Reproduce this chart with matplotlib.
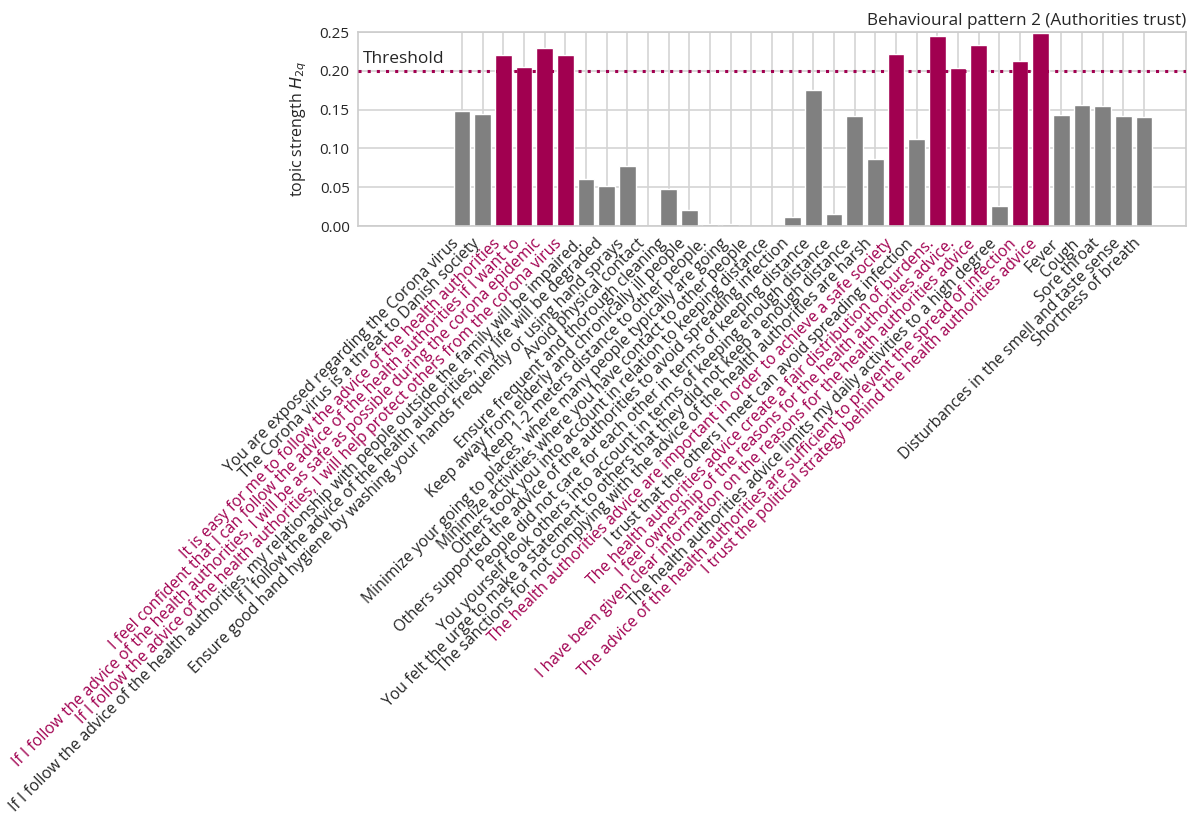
import numpy as np
import matplotlib
matplotlib.use("Agg")
import matplotlib.pyplot as plt
import seaborn as sns

sns.set_style("whitegrid")
plt.rcParams['font.family'] = ['Open Sans', 'DejaVu Sans']

# questionnaire items and their topic strength for pattern 2
items = [
    "You are exposed regarding the Corona virus",
    "The Corona virus is a threat to Danish society",
    "It is easy for me to follow the advice of the health authorities",
    "I feel confident that I can follow the advice of the health authorities if I want to",
    "If I follow the advice of the health authorities, I will be as safe as possible during the corona epidemic",
    "If I follow the advice of the health authorities, I will help protect others from the corona virus",
    "If I follow the advice of the health authorities, my relationship with people outside the family will be impaired.",
    "If I follow the advice of the health authorities, my life will be degraded",
    "Ensure good hand hygiene by washing your hands frequently or using hand sprays",
    "Avoid physical contact",
    "Ensure frequent and thorough cleaning",
    "Keep away from elderly and chronically ill people",
    "Keep 1-2 meters distance to other people.",
    "Minimize your going to places, where many people typically are going",
    "Minimize activities where you have contact to other people",
    "Others took you into account in relation to keeping distance",
    "Others supported the advice of the authorities to avoid spreading infection",
    "People did not care for each other in terms of keeping distance",
    "You yourself took others into account in terms of keeping enough distance",
    "You felt the urge to make a statement to others that they did not keep a enough distance",
    "The sanctions for not complying with the advice of the health authorities are harsh",
    "The health authorities advice are important in order to achieve a safe society",
    "I trust that the others I meet can avoid spreading infection",
    "The health authorities advice create a fair distribution of burdens.",
    "I feel ownership of the reasons for the health authorities advice.",
    "I have been given clear information on the reasons for the health authorities advice",
    "The health authorities advice limits my daily activities to a high degree",
    "The advice of the health authorities are sufficient to prevent the spread of infection",
    "I trust the political strategy behind the health authorities advice",
    "Fever",
    "Cough",
    "Sore throat",
    "Disturbances in the smell and taste sense",
    "Shortness of breath",
]
strength = [
    0.1486, 0.1439, 0.2199, 0.2053, 0.2298, 0.2204, 0.0610, 0.0520, 0.0777,
    0.0, 0.0480, 0.0206, 0.0026, 0.0030, 0.0, 0.0, 0.0112, 0.1757, 0.0155,
    0.1422, 0.0868, 0.2221, 0.1121, 0.2448, 0.2036, 0.2328, 0.0258, 0.2130,
    0.2487, 0.1430, 0.1563, 0.1546, 0.1413, 0.1405,
]
threshold = 0.2

magenta = "#a10050"
grey = "#808080"
text_col = "#262626"

fig = plt.figure(figsize=(11.93, 8.19), dpi=100)
ax = fig.add_axes([358 / 1193, 1 - 226 / 819, (1186 - 358) / 1193, (226 - 32) / 819])

x = np.arange(len(items))
cols = [magenta if v > threshold else grey for v in strength]
ax.bar(x, strength, width=0.8, color=cols, edgecolor="white", linewidth=1, zorder=2)

ax.axhline(threshold, color=magenta, linestyle=(0, (1, 2)), linewidth=2.2, zorder=3)
ax.text(-4.8, threshold + 0.005, "Threshold", fontsize=12.5, color=text_col, va="bottom", ha="left")

ax.set_xlim(-5.03, 35.03)
ax.set_ylim(0, 0.25)
ax.set_yticks([0, 0.05, 0.1, 0.15, 0.2, 0.25])
ax.set_yticklabels(["0.00", "0.05", "0.10", "0.15", "0.20", "0.25"])
ax.set_xticks(x)
ax.set_xticklabels(items, rotation=45, ha="right")
for lab, c in zip(ax.get_xticklabels(), cols):
    lab.set_color(magenta if c == magenta else text_col)
ax.tick_params(axis="x", labelsize=11.3, length=0, pad=7)
ax.tick_params(axis="y", labelsize=11, length=0, pad=6)

ax.grid(True, color="#d4d4d4", linewidth=1.2, zorder=0)
ax.set_axisbelow(True)
for s in ax.spines.values():
    s.set_color("#cccccc")
    s.set_linewidth(1.2)

ax.set_ylabel("topic strength $H_{2q}$", fontsize=11.5, color=text_col, labelpad=8)
ax.set_title("Behavioural pattern 2 (Authorities trust)", loc="right", fontsize=12.3, color=text_col, pad=5)

fig.savefig("out.png", dpi=100)
